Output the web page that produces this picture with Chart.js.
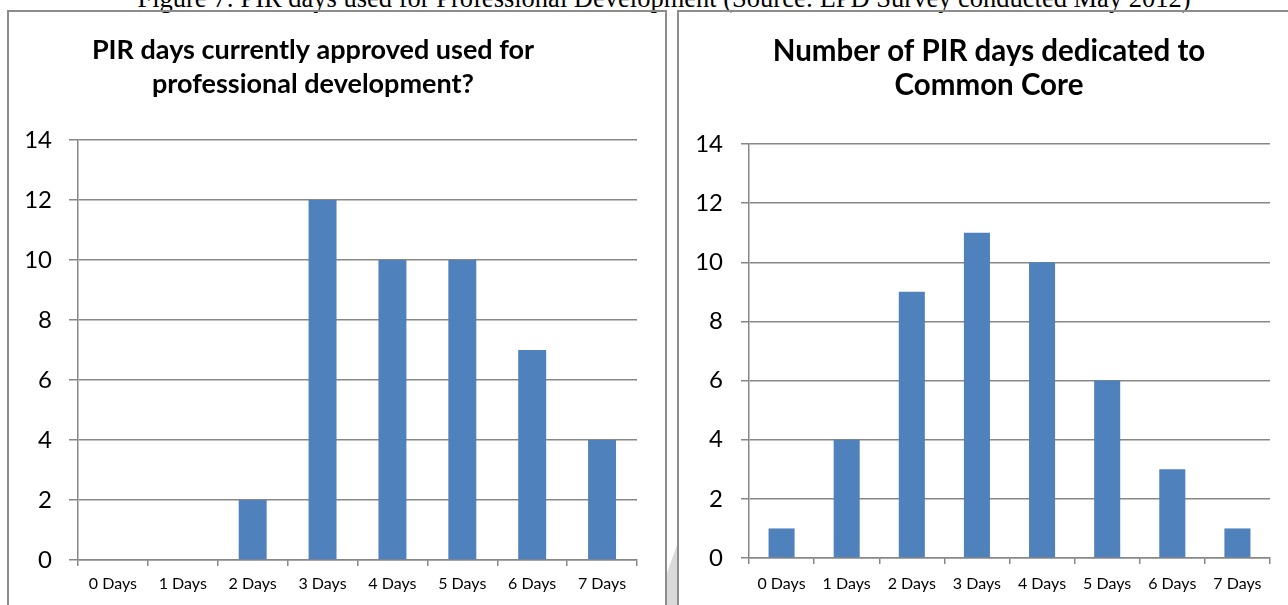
<!DOCTYPE html>
<html>
<head>
<meta charset="utf-8">
<title>PIR days used for Professional Development</title>
<script src="https://cdn.jsdelivr.net/npm/chart.js@4.4.1/dist/chart.umd.min.js"></script>
<style>
  html, body { margin: 0; padding: 0; background: #fff; }
  body { width: 1288px; height: 605px; position: relative; overflow: hidden; }
  #caption {
    position: absolute; left: 20px; top: -17px; width: 1288px;
    text-align: center; white-space: nowrap; color: #000;
    font: 26.5px/30px "Liberation Serif", "Times New Roman", serif;
  }
  .panel { position: absolute; border: 2px solid #8c8c8c; box-sizing: border-box; }
  #panelLeft  { left: 7px;   top: 10px; width: 660px; height: 700px; }
  #panelRight { left: 677px; top: 10px; width: 700px; height: 700px; }
  #fold {
    position: absolute; left: 667px; top: 545px; width: 10px; height: 60px;
    background: #dadada;
    clip-path: polygon(0 28px, 100% 0, 100% 100%, 0 100%);
  }
  canvas { position: absolute; top: 0; }
  #chartLeft  { left: 0; }
  #chartRight { left: 679px; }
</style>
</head>
<body>
<div id="caption">Figure 7: PIR days used for Professional Development (Source: LPD Survey conducted May 2012)</div>
<div class="panel" id="panelLeft"></div>
<div class="panel" id="panelRight"></div>
<div id="fold"></div>
<canvas id="chartLeft" width="665" height="605"></canvas>
<canvas id="chartRight" width="609" height="605"></canvas>

<script>
// Survey answers: number of districts per count of PIR days
const dayLabels = ['0 Days', '1 Days', '2 Days', '3 Days', '4 Days', '5 Days', '6 Days', '7 Days'];
const profDevCounts = [0, 0, 2, 12, 10, 10, 7, 4];
const commonCoreCounts = [1, 4, 9, 11, 10, 6, 3, 1];

const profDevTitle = ['PIR days currently approved used for', 'professional development?'];
const commonCoreTitle = ['Number of PIR days dedicated to', 'Common Core'];

const yMin = 0, yMax = 14, yStep = 2;

const BAR_BLUE = '#4F81BD';
const GRID_GREY = '#878787';

// Two-line bold heading drawn above the plot area
const headingPlugin = {
  id: 'panelHeading',
  afterDraw(chart, args, opts) {
    const ctx = chart.ctx;
    ctx.save();
    ctx.font = 'bold ' + opts.size + 'px Lato, "Open Sans", sans-serif';
    ctx.fillStyle = '#000';
    ctx.textAlign = 'center';
    ctx.textBaseline = 'alphabetic';
    opts.lines.forEach((line, i) => ctx.fillText(line, opts.x, opts.baseline + i * opts.gap));
    ctx.restore();
  }
};

function buildChart(canvasId, values, heading, box) {
  return new Chart(document.getElementById(canvasId), {
    type: 'bar',
    data: {
      labels: dayLabels,
      datasets: [{
        data: values,
        backgroundColor: BAR_BLUE,
        borderWidth: 0,
        barPercentage: 0.4,
        categoryPercentage: 1.0
      }]
    },
    options: {
      responsive: false,
      animation: false,
      events: [],
      layout: { padding: { top: box.top, right: box.right, bottom: 0, left: 0 } },
      plugins: {
        legend: { display: false },
        tooltip: { enabled: false },
        title: { display: false },
        panelHeading: heading
      },
      scales: {
        x: {
          offset: true,
          grid: {
            offset: true,
            drawOnChartArea: false,
            drawTicks: true,
            tickLength: 6,
            color: GRID_GREY,
            lineWidth: 1.5
          },
          border: { display: true, color: GRID_GREY, width: 1.5 },
          ticks: {
            color: '#000',
            padding: box.xPad,
            maxRotation: 0,
            autoSkip: false,
            font: { family: 'Lato', size: 16 }
          },
          afterFit(scale) { scale.height = box.xHeight; }
        },
        y: {
          min: yMin,
          max: yMax,
          grid: {
            color: GRID_GREY,
            lineWidth: 1.5,
            drawTicks: true,
            tickLength: box.yTick
          },
          border: { display: true, color: GRID_GREY, width: 1.5 },
          ticks: {
            stepSize: yStep,
            color: '#000',
            padding: box.yPad,
            font: { family: 'Lato', size: 24 }
          },
          afterFit(scale) { scale.width = box.yWidth; }
        }
      }
    },
    plugins: [headingPlugin]
  });
}

function drawAll() {
  buildChart('chartLeft', profDevCounts,
    { lines: profDevTitle, size: 27, x: 313, baseline: 59, gap: 34 },
    { top: 140, right: 28, xHeight: 45, xPad: 8, yTick: 9, yPad: 17, yWidth: 78 });

  buildChart('chartRight', commonCoreCounts,
    { lines: commonCoreTitle, size: 29.5, x: 310, baseline: 61, gap: 34 },
    { top: 144, right: 18, xHeight: 47, xPad: 10, yTick: 8, yPad: 18, yWidth: 70 });
}

Promise.all([
  document.fonts.load('bold 27px Lato'),
  document.fonts.load('24px Lato')
]).then(drawAll, drawAll);
</script>
</body>
</html>
